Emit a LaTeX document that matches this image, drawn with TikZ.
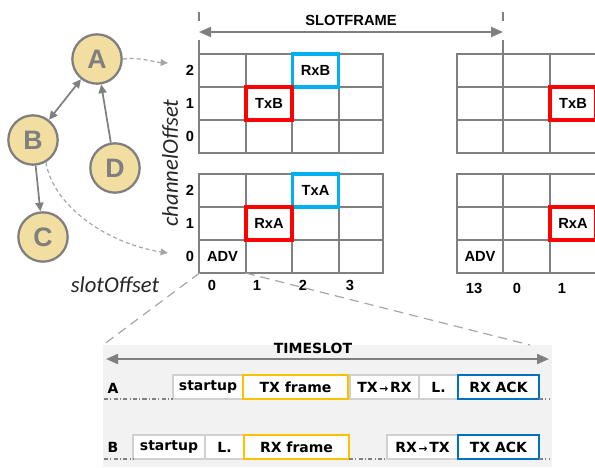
\documentclass[tikz,border=0pt]{standalone}
\usepackage{fontspec}
\setmainfont{Liberation Sans}
\newfontfamily\slotfont{DejaVu Sans}
\newfontfamily\axisfont{Carlito}
\usetikzlibrary{arrows.meta,positioning}

\definecolor{nodefill}{HTML}{F1DEA0}
\definecolor{nodegray}{HTML}{7F7F7F}
\definecolor{gridgray}{HTML}{808080}
\definecolor{hintgray}{HTML}{A6A6A6}
\definecolor{panelbg}{HTML}{F2F2F2}
\definecolor{boxgray}{HTML}{D0D0D0}
\definecolor{cellred}{HTML}{FF0000}
\definecolor{cellblue}{HTML}{00B0F0}
\definecolor{frameorange}{HTML}{FFC000}
\definecolor{ackblue}{HTML}{0070C0}

\tikzset{
  station/.style={circle, draw=nodegray, fill=nodefill, line width=1.7pt,
    minimum size=37pt, inner sep=0pt, text=nodegray,
    font=\bfseries\fontsize{20}{20}\selectfont},
  link/.style={draw=nodegray, line width=1.3pt,
    >={Triangle[length=6.5pt,width=6pt]}},
  hint/.style={draw=hintgray, line width=0.9pt, dash pattern=on 3pt off 2.2pt,
    -{Triangle[length=5.5pt,width=5pt]}},
  projline/.style={draw=hintgray, line width=0.9pt, dash pattern=on 7pt off 4.5pt},
  gridline/.style={draw=gridgray, line width=2pt, line cap=rect},
  framemark/.style={draw=gridgray, line width=1.6pt, dash pattern=on 6.75pt off 14.25pt},
  span/.style={draw=nodegray, line width=1.5pt,
    {Triangle[length=9pt,width=7.5pt]}-{Triangle[length=9pt,width=7.5pt]}},
  cell/.style={minimum width=34.5pt, minimum height=24.75pt, inner sep=0pt,
    outer sep=0pt, font=\bfseries\fontsize{11}{11}\selectfont},
  redcell/.style={draw=cellred, line width=2.6pt},
  bluecell/.style={draw=cellblue, line width=2.6pt},
  axisnum/.style={font=\bfseries\fontsize{11}{11}\selectfont},
  axisname/.style={text=black!85, font=\axisfont\itshape\fontsize{17}{17}\selectfont},
  slotbox/.style={draw=boxgray, fill=white, line width=1.5pt, minimum height=18pt,
    inner sep=0pt, outer sep=0pt, font=\slotfont\bfseries\fontsize{10.5}{10.5}\selectfont},
  framebox/.style={draw=frameorange},
  ackbox/.style={draw=ackblue},
  slottext/.style={font=\slotfont\bfseries\fontsize{10.5}{10.5}\selectfont},
  idle/.style={draw=gridgray, line width=0.8pt,
    dash pattern=on 3.2pt off 1.6pt on 0.8pt off 1.6pt}
}

\newcommand{\schedgrid}[4]{%
  \foreach \r in {0,...,3}
    \draw[gridline] (#2,{-#4-33*\r}) -- (#3,{-#4-33*\r});
  \foreach \c in {#1}
    \draw[gridline] (\c,-#4) -- (\c,{-#4-99});
}
\newcommand{\tinyto}{{\fontsize{8}{8}\selectfont\,→\,}}

\begin{document}
\begin{tikzpicture}[x=0.75pt,y=0.75pt]
  \useasboundingbox (0,0) rectangle (595,-467);

  % network
  \node[station] (A) at (97,-59) {A};
  \node[station] (B) at (33,-140) {B};
  \node[station] (D) at (115,-168) {D};
  \node[station] (C) at (43,-237) {C};
  \draw[link,<->] (A) -- (B);
  \draw[link,->] (D) -- (A);
  \draw[link,->] (B) -- (C);

  \coordinate (toupper) at (168,-63);
  \coordinate (tolower) at (168,-253);
  \draw[hint] (A.east) .. controls (142,-57) and (152,-62) .. (toupper);
  \draw[hint] (B.-60) .. controls (53,-205) and (105,-243) .. (tolower);

  % slotframe
  \schedgrid{199,246,292,339,383}{199}{383}{54}
  \schedgrid{199,246,292,339,383}{199}{383}{174}
  \schedgrid{457,503,550,596}{457}{596}{54}
  \schedgrid{457,503,550,596}{457}{596}{174}
  \draw[gridline] (199,-47) -- (199,-54);
  \draw[gridline] (503,-47) -- (503,-54);
  \draw[framemark] (199,-12) -- (199,-47);
  \draw[framemark] (503,-12) -- (503,-47);
  \coordinate (sfstart) at (199,-32);
  \coordinate (sfend) at (503,-32);
  \draw[span] (sfstart) -- (sfend);
  \node[cell] (sftitle) at (351,-20) {SLOTFRAME};

  \node[cell,bluecell] (rxB) at (315.5,-70.5) {RxB};
  \node[cell,redcell] (txB) at (269,-103.5) {TxB};
  \node[cell,bluecell] (txA) at (315.5,-190.5) {TxA};
  \node[cell,redcell] (rxA) at (269,-223.5) {RxA};
  \node[cell] (adv) at (222.5,-256.5) {ADV};
  \node[cell,redcell] (txBnext) at (573,-103.5) {TxB};
  \node[cell,redcell] (rxAnext) at (573,-223.5) {RxA};
  \node[cell] (advlast) at (480,-256.5) {ADV};

  \foreach \t/\y in {2/70,1/103,0/136,2/190,1/223,0/256}
    \node[axisnum] (ch-\y) at (190,-\y) {\t};
  \foreach \t/\x in {0/212,1/257,2/303,3/350}
    \node[axisnum] (so-\x) at (\x,-285) {\t};
  \foreach \t/\x in {13/474,0/517,1/562}
    \node[axisnum] (so-\x) at (\x,-288) {\t};
  \node[axisname, rotate=90] (chname) at (170,-163) {channelOffset};
  \node[axisname] (soname) at (115,-285) {slotOffset};

  % timeslot
  \fill[panelbg] (103,-345) rectangle (552,-467);
  \coordinate (panelleft) at (103,-345);
  \coordinate (panelright) at (530,-345);
  \draw[projline] (adv.south west) -- (panelleft);
  \draw[projline] (adv.south east) -- (panelright);
  \coordinate (tsstart) at (106,-359);
  \coordinate (tsend) at (549,-359);
  \draw[span] (tsstart) -- (tsend);
  \node[slottext] (tstitle) at (313,-348) {TIMESLOT};

  \node[slottext] (rowA) at (113,-388) {A};
  \node[slotbox, minimum width=52.5pt, anchor=west] (a-start) at (173,-387) {startup};
  \node[slotbox, minimum width=51.75pt, anchor=west] (a-turn) at (350,-387) {TX\tinyto RX};
  \node[slotbox, minimum width=29.25pt, right=0pt of a-turn] (a-lat) {L.};
  \node[slotbox, framebox, minimum width=78.75pt, right=0pt of a-start] (a-tx) {TX frame};
  \node[slotbox, ackbox, minimum width=60.75pt, right=0pt of a-lat] (a-ack) {RX\,\,ACK};
  \draw[idle] (104,-399) -- (a-start.south west);
  \draw[idle] (a-ack.south east) -- (550,-399);

  \node[slottext] (rowB) at (113,-447) {B};
  \node[slotbox, minimum width=54pt, anchor=west] (b-start) at (133,-447) {startup};
  \node[slotbox, minimum width=29.25pt, right=0pt of b-start] (b-lat) {L.};
  \node[slotbox, minimum width=53.25pt, anchor=west] (b-turn) at (387,-447) {RX\tinyto TX};
  \node[slotbox, framebox, minimum width=78.75pt, right=0pt of b-lat] (b-rx) {RX frame};
  \node[slotbox, ackbox, minimum width=60.75pt, right=0pt of b-turn] (b-ack) {TX ACK};
  \draw[idle] (104,-459) -- (b-start.south west);
  \draw[idle] (b-rx.south east) -- (b-turn.south west);
  \draw[idle] (b-ack.south east) -- (550,-459);
\end{tikzpicture}
\end{document}
